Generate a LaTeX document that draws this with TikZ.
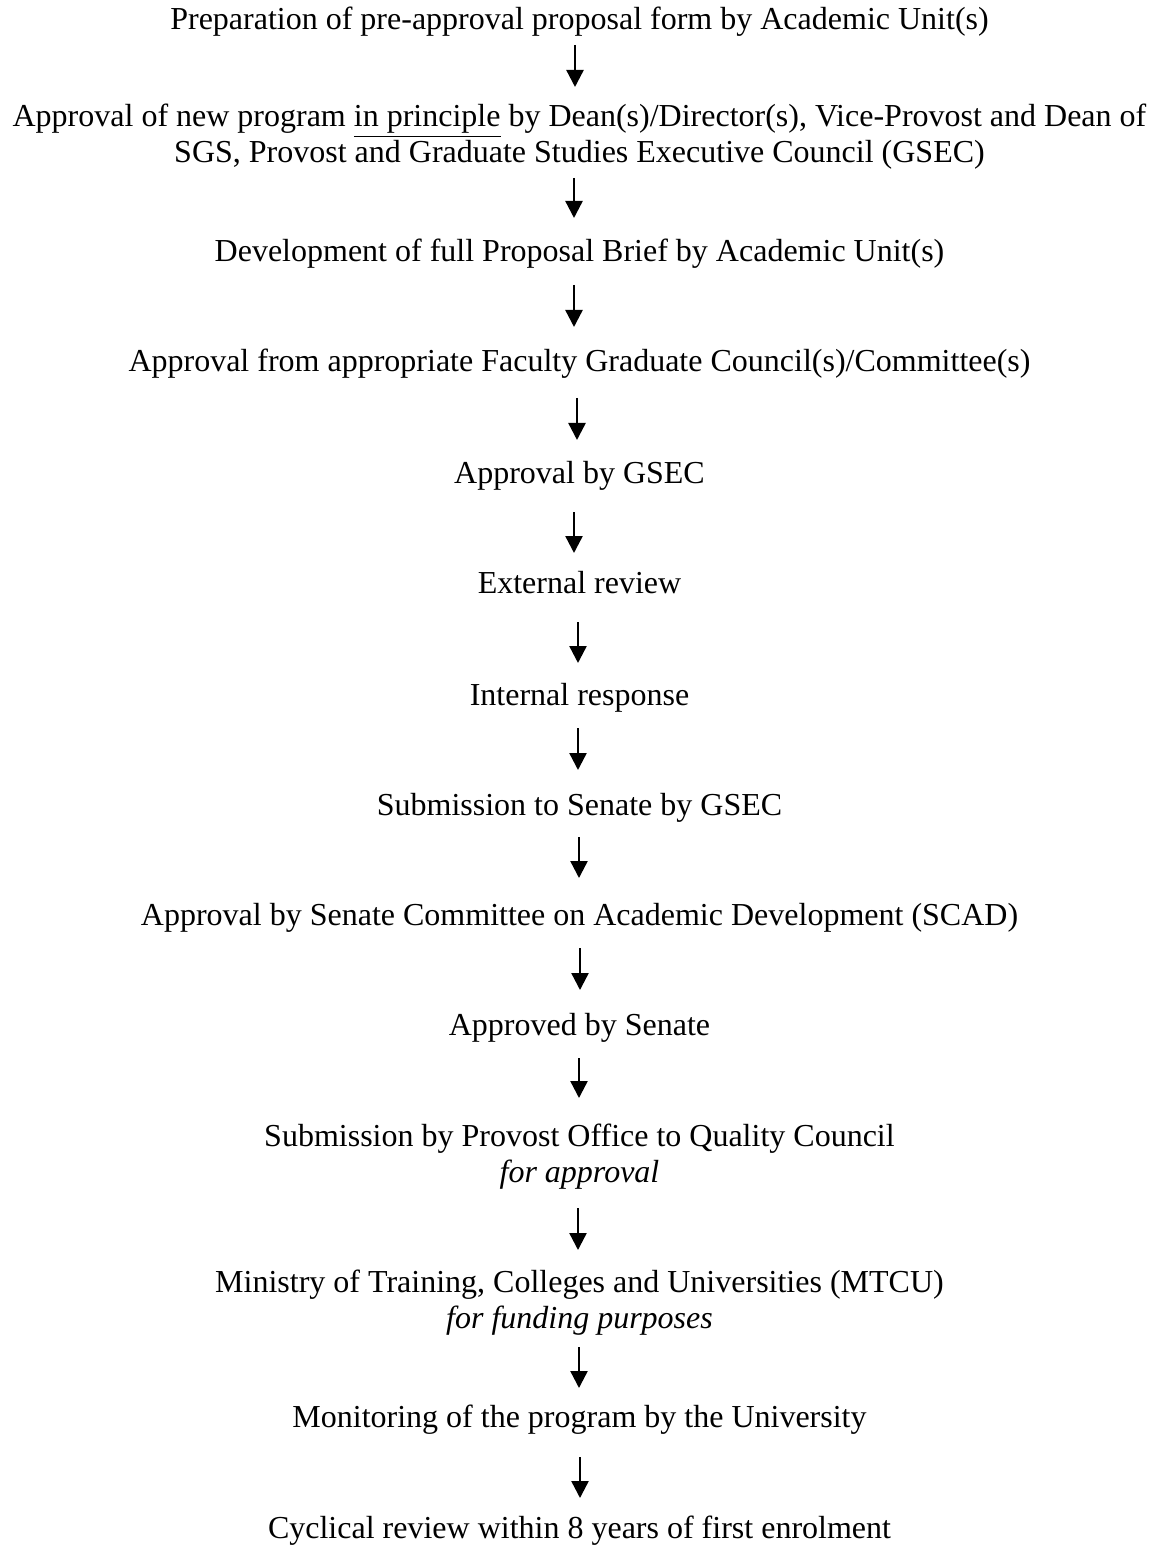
\documentclass[tikz,border=0pt]{standalone}
\usepackage{fontspec}
\setmainfont{Liberation Serif}
\usetikzlibrary{arrows.meta,calc}

\tikzset{
  stage/.style={anchor=base, inner sep=0pt, align=center, font=\fontsize{16pt}{18pt}\selectfont},
  flow/.style={-{Triangle[width=8.5pt,length=8.5pt]}, line width=1.2pt}
}

\begin{document}
\begin{tikzpicture}[x=0.5pt,y=-0.5pt]
\useasboundingbox (0,0) rectangle (1159,1545);

        % draw the stages
        \node[stage] (prep)     at (579.5,30)   {Preparation of pre-approval proposal form by Academic Unit(s)};
        \node[stage] (inpr)     at (579.5,163)  {Approval of new program \underline{in principle} by Dean(s)/Director(s), Vice-Provost and Dean of\\SGS, Provost and Graduate Studies Executive Council (GSEC)};
        \node[stage] (brief)    at (579.5,262)  {Development of full Proposal Brief by Academic Unit(s)};
        \node[stage] (fgc)      at (579.5,372)  {Approval from appropriate Faculty Graduate Council(s)/Committee(s)};
        \node[stage] (gsec)     at (579.5,483)  {Approval by GSEC};
        \node[stage] (extrev)   at (579.5,593)  {External review};
        \node[stage] (intresp)  at (579.5,705)  {Internal response};
        \node[stage] (senate)   at (579.5,815)  {Submission to Senate by GSEC};
        \node[stage] (scad)     at (579.5,925)  {Approval by Senate Committee on Academic Development (SCAD)};
        \node[stage] (approved) at (579.5,1035) {Approved by Senate};
        \node[stage] (qc)       at (579.5,1182) {Submission by Provost Office to Quality Council\\\textit{for approval}};
        \node[stage] (mtcu)     at (579.5,1328) {Ministry of Training, Colleges and Universities (MTCU)\\\textit{for funding purposes}};
        \node[stage] (monitor)  at (579.5,1427) {Monitoring of the program by the University};
        \node[stage] (cyclic)   at (579.5,1538) {Cyclical review within 8 years of first enrolment};

        % draw the arrows between the stages
        \draw[flow] ($(prep.base)+(-4.5,15)$)     -- ($(inpr.base)+(-4.5,-76)$);
        \draw[flow] ($(inpr.base)+(-5.5,15)$)     -- ($(brief.base)+(-5.5,-44)$);
        \draw[flow] ($(brief.base)+(-5.5,23)$)    -- ($(fgc.base)+(-5.5,-45)$);
        \draw[flow] ($(fgc.base)+(-2.5,26)$)      -- ($(gsec.base)+(-2.5,-43)$);
        \draw[flow] ($(gsec.base)+(-5.5,29)$)     -- ($(extrev.base)+(-5.5,-40)$);
        \draw[flow] ($(extrev.base)+(-1.5,29)$)   -- ($(intresp.base)+(-1.5,-42)$);
        \draw[flow] ($(intresp.base)+(-1.5,23)$)  -- ($(senate.base)+(-1.5,-45)$);
        \draw[flow] ($(senate.base)+(-0.5,22)$)   -- ($(scad.base)+(-0.5,-47)$);
        \draw[flow] ($(scad.base)+(0.5,23)$)      -- ($(approved.base)+(0.5,-45)$);
        \draw[flow] ($(approved.base)+(-0.5,23)$) -- ($(qc.base)+(-0.5,-84)$);
        \draw[flow] ($(qc.base)+(-1.5,26)$)       -- ($(mtcu.base)+(-1.5,-78)$);
        \draw[flow] ($(mtcu.base)+(-0.5,19)$)     -- ($(monitor.base)+(-0.5,-39)$);
        \draw[flow] ($(monitor.base)+(0.5,30)$)   -- ($(cyclic.base)+(0.5,-40)$);
\end{tikzpicture}
\end{document}
